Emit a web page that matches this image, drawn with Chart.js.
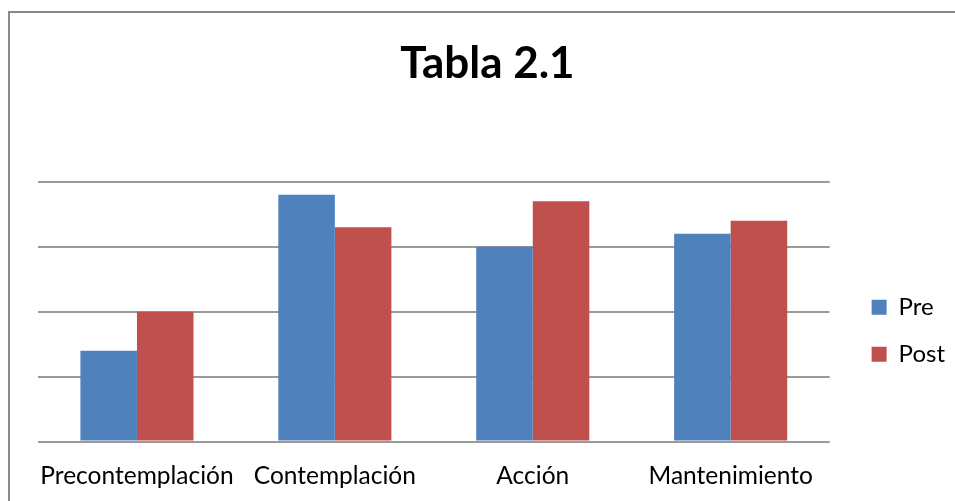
<!DOCTYPE html>
<html>
<head>
<meta charset="utf-8">
<script src="https://cdn.jsdelivr.net/npm/chart.js@4"></script>
<style>
  html, body { margin: 0; padding: 0; background: #fff; overflow: hidden; }
  #frame { position: absolute; left: 8px; top: 11px; width: 1000px; height: 600px; border: 2px solid #8a8a8a; }
  #wrap { position: absolute; left: 0; top: 0; width: 955px; height: 501px; }
</style>
</head>
<body>
<div id="frame"></div>
<div id="wrap"><canvas id="chart"></canvas></div>
<script>
// Datos
const categorias = ['Precontemplación', 'Contemplación', 'Acción', 'Mantenimiento'];
const pre = [1.4, 3.8, 3.0, 3.2];
const post = [2.0, 3.3, 3.7, 3.4];

const fuente = 'Lato, "Noto Sans", sans-serif';

const ctx = document.getElementById('chart').getContext('2d');
const chart = new Chart(ctx, {
    type: 'bar',
    data: {
        labels: categorias,
        datasets: [
            { label: 'Pre', data: pre, backgroundColor: '#4F81BD' },
            { label: 'Post', data: post, backgroundColor: '#C0504D' }
        ]
    },
    options: {
        animation: false,
        responsive: true,
        maintainAspectRatio: false,
        datasets: {
            bar: { categoryPercentage: 2 / 3.5, barPercentage: 1 }
        },
        layout: { padding: { left: 20, right: 0, top: 0, bottom: -10 } },
        plugins: {
            title: {
                display: true,
                text: 'Tabla 2.1',
                color: '#000',
                font: { family: fuente, size: 44, weight: 'bold' },
                padding: { top: 37, bottom: 92 }
            },
            legend: {
                position: 'right',
                fullSize: false,
                title: { display: true, text: '', font: { size: 1, lineHeight: 1 }, padding: { top: 37, bottom: 0 } },
                labels: {
                    boxWidth: 15,
                    boxHeight: 15,
                    padding: 23,
                    color: '#000',
                    font: { family: fuente, size: 24 }
                }
            },
            tooltip: { enabled: false }
        },
        scales: {
            x: {
                grid: { display: false, drawTicks: false },
                border: { display: false },
                ticks: { color: '#000', padding: 20, font: { family: fuente, size: 24.5 }, maxRotation: 0, autoSkip: false }
            },
            y: {
                position: 'left',
                min: 0,
                max: 4,
                afterFit: (s) => { s.width = 18; },
                ticks: { display: false, stepSize: 1 },
                grid: { color: '#9a9a9a', lineWidth: 2, drawTicks: false },
                border: { display: false }
            },
            // espacio entre el area del grafico y la leyenda
            y2: {
                type: 'linear',
                position: 'right',
                afterFit: (s) => { s.width = 19; },
                ticks: { display: false },
                grid: { display: false, drawTicks: false },
                border: { display: false }
            }
        }
    }
});
</script>
</body>
</html>
